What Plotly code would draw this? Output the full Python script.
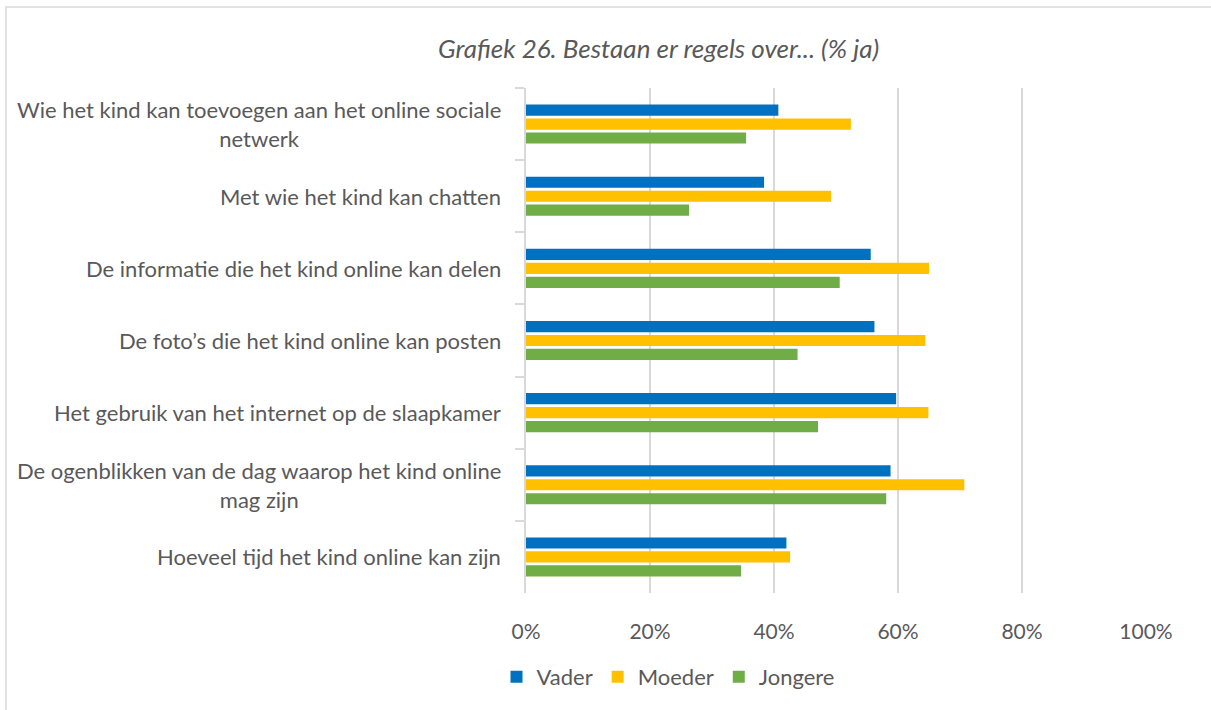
import plotly.graph_objects as go

categories = [
    "Wie het kind kan toevoegen aan het online sociale<br>netwerk",
    "Met wie het kind kan chatten",
    "De informatie die het kind online kan delen",
    "De foto’s die het kind online kan posten",
    "Het gebruik van het internet op de slaapkamer",
    "De ogenblikken van de dag waarop het kind online<br>mag zijn",
    "Hoeveel tijd het kind online kan zijn",
]
vader = [40.7, 38.4, 55.6, 56.2, 59.7, 58.8, 42.0]
moeder = [52.4, 49.2, 65.0, 64.4, 64.9, 70.7, 42.6]
jongere = [35.5, 26.3, 50.6, 43.8, 47.1, 58.1, 34.7]
x_ticks = [0, 20, 40, 60, 80, 100]
x_tick_labels = ["0%", "20%", "40%", "60%", "80%", "100%"]

FONT = "Lato"
GRAY = "#595959"
W, H = 1211, 710
ML, MR, MT, MB = 526, 65, 88, 110
pw = W - ML - MR
ph = H - MT - MB

fig = go.Figure()
for name, vals, col in [("Vader", vader, "#0070C0"),
                        ("Moeder", moeder, "#FFC000"),
                        ("Jongere", jongere, "#70AD47")]:
    fig.add_trace(go.Bar(y=categories, x=vals, name=name, orientation="h",
                         marker=dict(color=col, line=dict(width=0))))

annotations = [
    dict(x=0, xref="paper", y=c, yref="y", text=c, showarrow=False,
         xanchor="right", yanchor="middle", align="center", xshift=-23,
         font=dict(family=FONT, size=22, color=GRAY))
    for c in categories
]
annotations.append(dict(x=(658 - ML) / pw, xref="paper",
                        y=1 + (MT - 47) / ph, yref="paper",
                        text="<i>Grafiek 26. Bestaan er regels over... (% ja)</i>",
                        showarrow=False, xanchor="center", yanchor="middle",
                        font=dict(family=FONT, size=26, color=GRAY)))

frame = dict(type="rect", xref="paper", yref="paper",
             x0=(6 - ML) / pw, x1=(W + 40 - ML) / pw,
             y0=-(H + 40 - MT - ph) / ph, y1=1 + (MT - 6) / ph,
             line=dict(color="#d9d9d9", width=1.5), fillcolor="rgba(0,0,0,0)",
             layer="below")

fig.update_layout(
    width=W, height=H,
    margin=dict(l=ML, r=MR, t=MT, b=MB),
    paper_bgcolor="white", plot_bgcolor="white",
    barmode="group", bargap=0.42, bargroupgap=0.2,
    font=dict(family=FONT, size=22, color=GRAY),
    showlegend=True,
    legend=dict(orientation="h", x=(668 - ML) / pw, xanchor="center",
                y=-(685 - MT - ph) / ph, yanchor="middle",
                font=dict(family=FONT, size=22, color=GRAY),
                traceorder="normal"),
    annotations=annotations,
    shapes=[frame],
)
fig.update_xaxes(range=[0, 100], tickvals=x_ticks, ticktext=x_tick_labels,
                 showgrid=True, gridcolor="#d9d9d9", gridwidth=1.5,
                 zeroline=False, showline=False, ticks="",
                 ticklabelstandoff=24,
                 tickfont=dict(family=FONT, size=21, color=GRAY))
fig.update_yaxes(autorange="reversed", showticklabels=False,
                 tickson="boundaries", ticks="outside", ticklen=9,
                 tickcolor="#d9d9d9", tickwidth=1.5,
                 showline=True, linecolor="#d9d9d9", linewidth=1.5,
                 showgrid=False)

fig.write_html("out.html", config={"displayModeBar": False},
               post_script="document.body.style.margin='0';document.body.style.overflow='hidden';")
